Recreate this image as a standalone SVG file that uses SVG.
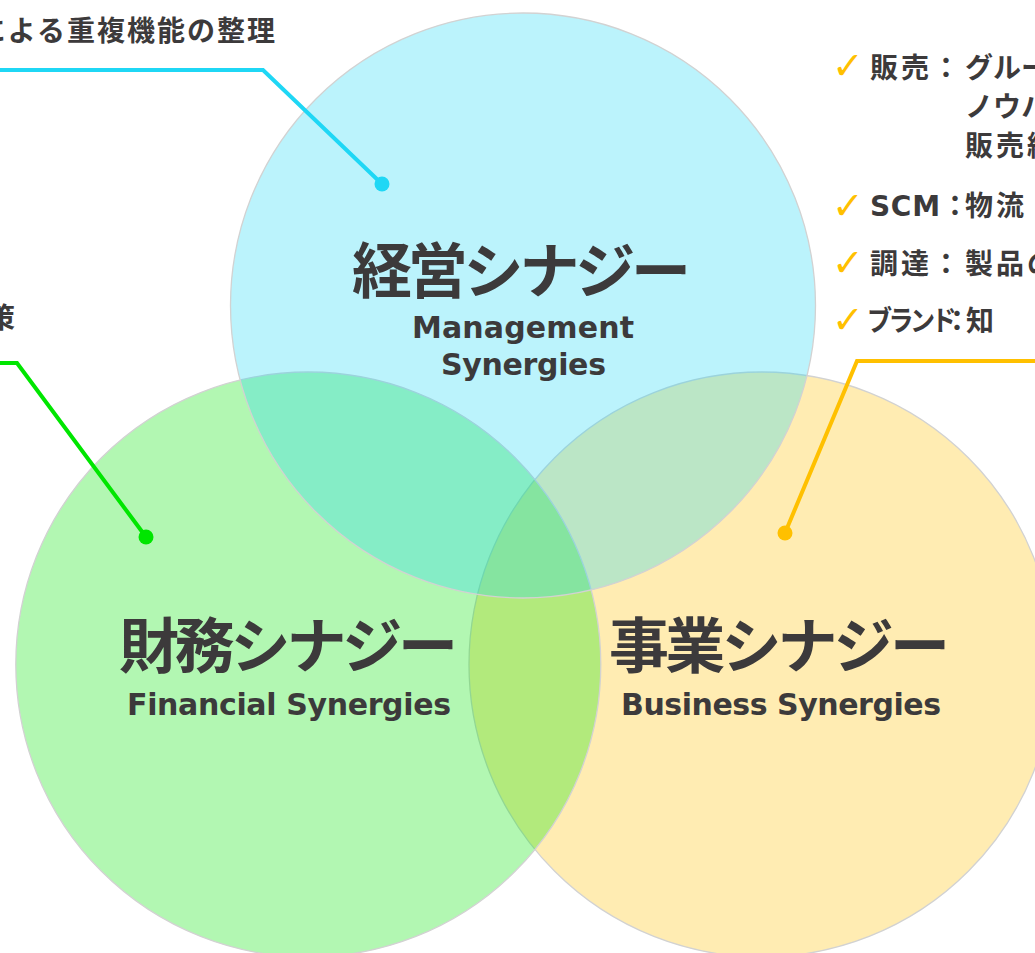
<svg xmlns="http://www.w3.org/2000/svg" width="1035" height="953" viewBox="0 0 1035 953">
<style>
.circ{stroke:#d2d2d2;stroke-width:1.3;}
.jp{font-family:"Noto Sans CJK JP","Noto Sans CJK SC",sans-serif;font-weight:700;fill:#3c3a3b;}
.en{font-family:"DejaVu Sans","Noto Sans",sans-serif;font-weight:700;fill:#3c3a3b;}
.side{font-size:28px;}
.chk{font-family:"DejaVu Sans",sans-serif;font-size:38px;fill:#ffc000;}
.title{font-size:60px;}
.sub{font-size:30px;}
.ln{fill:none;stroke-width:4;stroke-linejoin:miter;}
</style>
<rect width="1035" height="953" fill="#ffffff"/>
<g id="business">
<circle class="circ" cx="761.5" cy="664.5" r="292.5" fill="#ffc000" fill-opacity="0.3"/>
</g>
<g id="financial">
<circle class="circ" cx="308.3" cy="664.5" r="292.5" fill="#00e600" fill-opacity="0.3"/>
</g>
<g id="management">
<circle class="circ" cx="523" cy="305.5" r="292.5" fill="#1fd7f5" fill-opacity="0.3"/>
</g>
<g id="connectors">
<polyline class="ln" stroke="#1fd7f5" points="-5,70 263,70 382,184"/>
<circle cx="382" cy="184" r="7.5" fill="#1fd7f5"/>
<polyline class="ln" stroke="#00e600" points="-5,363 17,363 146,537"/>
<circle cx="146" cy="537" r="7.5" fill="#00e600"/>
<polyline class="ln" stroke="#ffc000" points="1040,361 857,361 785,533"/>
<circle cx="785" cy="533" r="7.5" fill="#ffc000"/>
</g>
<g id="management-label">
<text class="jp title" x="521.5" y="293" text-anchor="middle" textLength="339">経営シナジー</text>
<text class="en sub" x="523" y="338" text-anchor="middle" textLength="222">Management</text>
<text class="en sub" x="523.5" y="375" text-anchor="middle" textLength="165">Synergies</text>
</g>
<g id="financial-label">
<text class="jp title" x="288.5" y="668" text-anchor="middle" textLength="339">財務シナジー</text>
<text class="en sub" x="289" y="715" text-anchor="middle" textLength="324">Financial Synergies</text>
</g>
<g id="business-label">
<text class="jp title" x="779.5" y="668" text-anchor="middle" textLength="341">事業シナジー</text>
<text class="en sub" x="781" y="715" text-anchor="middle" textLength="320">Business Synergies</text>
</g>
<g id="management-note">
<text class="jp side" x="277" y="41" text-anchor="end" letter-spacing="2">による重複機能の整理</text>
</g>
<g id="financial-note">
<text class="jp side" x="15" y="328" text-anchor="end">策</text>
</g>
<g id="business-note">
<text class="chk" x="832" y="79">✓</text>
<text class="jp side" x="870" y="78" letter-spacing="3">販売</text>
<text class="jp side" x="946" y="78" text-anchor="middle">：</text>
<text class="jp side" x="965" y="78">グルー</text>
<text class="jp side" x="965" y="117">ノウハ</text>
<text class="jp side" x="965" y="156" letter-spacing="3">販売網</text>
<text class="chk" x="832" y="219">✓</text>
<text class="en side" x="870" y="216" textLength="70">SCM</text>
<text class="jp side" x="955" y="216" text-anchor="middle">：</text>
<text class="jp side" x="965" y="216" letter-spacing="3">物流</text>
<text class="chk" x="832" y="276">✓</text>
<text class="jp side" x="870" y="274" letter-spacing="3">調達</text>
<text class="jp side" x="946" y="274" text-anchor="middle">：</text>
<text class="jp side" x="965" y="274" letter-spacing="3">製品の</text>
<text class="chk" x="832" y="333">✓</text>
<text class="jp side" x="867" y="331" letter-spacing="-4" textLength="86" lengthAdjust="spacingAndGlyphs">ブランド</text>
<text class="jp side" x="957" y="331" text-anchor="middle">：</text>
<text class="jp side" x="966" y="331">知</text>
</g>
</svg>
